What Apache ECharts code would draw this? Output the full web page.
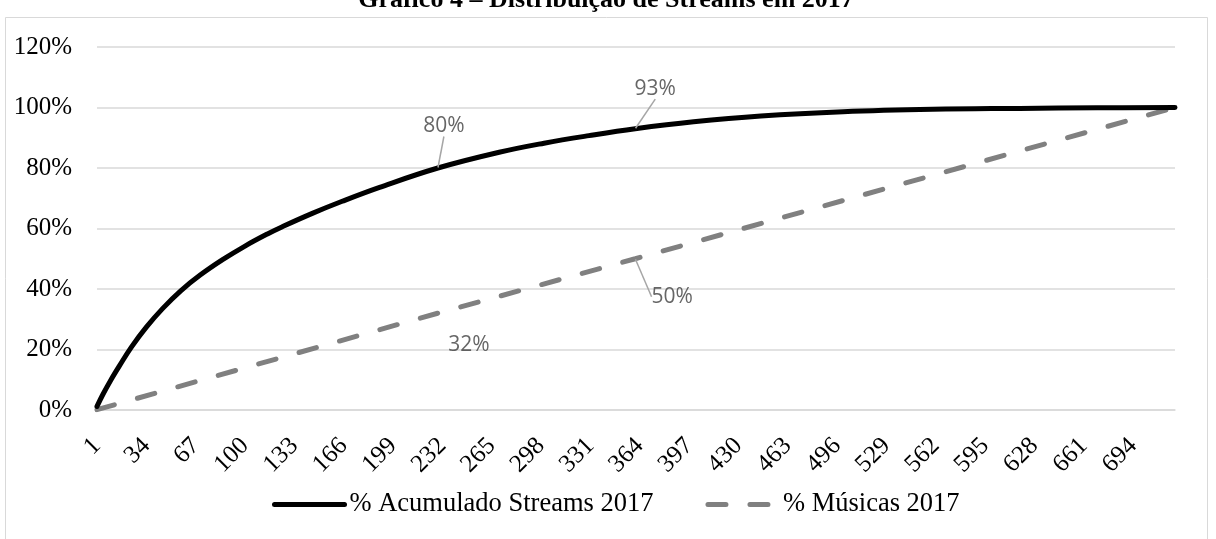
<!DOCTYPE html>
<html>
<head>
<meta charset="utf-8">
<title>Gráfico 4 – Distribuição de Streams em 2017</title>
<script src="https://cdn.jsdelivr.net/npm/echarts@6/dist/echarts.min.js"></script>
<style>
  html, body { margin: 0; padding: 0; background: #ffffff; }
  #chart { width: 1216px; height: 539px; }
</style>
</head>
<body>
<div id="chart"></div>
<script>
// Song rank (1 = most streamed) and cumulative share of streams, in %
const streamsRank = [1, 5, 10, 16, 24, 34, 45, 57, 70, 85, 100, 115, 125, 145, 165, 190, 229, 270, 300, 330, 361, 400, 445, 500, 560, 618, 670, 722];
const streamsPct  = [1.2, 5.2, 9.7, 14.6, 20.8, 27.4, 33.6, 39.4, 44.6, 49.7, 54.2, 58.2, 60.6, 65.0, 69.0, 73.6, 80, 85.2, 88.2, 90.7, 93, 95.3, 97.2, 98.6, 99.4, 99.7, 99.9, 100];

// Cumulative share of songs, in %
const musicasRank = [1, 229, 361, 722];
const musicasPct  = [0.1, 32, 50, 100];

// Category ticks shown on the horizontal axis
const xTickLabels = [1, 34, 67, 100, 133, 166, 199, 232, 265, 298, 331, 364, 397, 430, 463, 496, 529, 562, 595, 628, 661, 694];

// Ranks whose values are annotated on each line
const annotatedRanks = [229, 361];

const nameStreams = '% Acumulado Streams 2017';
const nameMusicas = '% Músicas 2017';

const zip = (xs, ys) => xs.map((x, i) => [x, ys[i]]);

// Annotation points, taken from the series arrays themselves
const annotations = [];
annotatedRanks.forEach(r => {
  annotations.push({ value: [r, streamsPct[streamsRank.indexOf(r)]], leader: true });
});
annotatedRanks.forEach((r, i) => {
  annotations.push({ value: [r, musicasPct[musicasRank.indexOf(r)]], leader: i === 1 });
});
// Label offsets (dx, dy) from each annotated point
const labelOffsets = [[6, -42], [20, -40], [31, 32], [37, 38]];

const serif = 'Liberation Serif, Times New Roman, serif';

const chart = echarts.init(document.getElementById('chart'), null, { renderer: 'canvas' });

chart.setOption({
  backgroundColor: '#ffffff',
  animation: false,
  graphic: [
    {
      type: 'rect',
      shape: { x: 5.5, y: 17.5, width: 1202, height: 600 },
      style: { fill: 'none', stroke: '#d9d9d9', lineWidth: 1 },
      silent: true
    },
    {
      type: 'text',
      x: 606,
      y: 0,
      style: {
        text: 'Gráfico 4 – Distribuição de Streams em 2017',
        font: 'bold 26px ' + serif,
        fill: '#000000',
        align: 'center',
        verticalAlign: 'middle'
      },
      silent: true
    }
  ],
  grid: { left: 97, right: 41, top: 47, bottom: 129, containLabel: false },
  legend: {
    data: [nameStreams, nameMusicas],
    top: 486,
    left: 267,
    itemWidth: 70,
    itemHeight: 20,
    itemGap: 52,
    itemStyle: { opacity: 0 },
    lineStyle: { width: 5, cap: 'round' },
    textStyle: { fontFamily: serif, fontSize: 26.5, color: '#000000' }
  },
  xAxis: {
    type: 'value',
    min: 1,
    max: 722,
    axisLine: { show: true, lineStyle: { color: '#d9d9d9', width: 1.5 } },
    axisTick: { show: false },
    splitLine: { show: false },
    axisLabel: {
      customValues: xTickLabels,
      rotate: 45,
      margin: 32,
      fontFamily: serif,
      fontSize: 25,
      color: '#000000'
    }
  },
  yAxis: {
    type: 'value',
    min: 0,
    max: 120,
    interval: 20,
    axisLine: { show: false },
    axisTick: { show: false },
    splitLine: { lineStyle: { color: '#d9d9d9', width: 1.5 } },
    axisLabel: {
      formatter: '{value}%',
      margin: 25,
      fontFamily: serif,
      fontSize: 25,
      color: '#000000'
    }
  },
  series: [
    {
      name: nameMusicas,
      type: 'line',
      data: zip(musicasRank, musicasPct),
      symbol: 'none',
      showSymbol: false,
      z: 2,
      lineStyle: { color: '#808080', width: 5, type: [18, 24], cap: 'round' },
      itemStyle: { color: '#808080' }
    },
    {
      name: nameStreams,
      type: 'line',
      data: zip(streamsRank, streamsPct),
      smooth: 0.4,
      symbol: 'none',
      showSymbol: false,
      z: 3,
      lineStyle: { color: '#000000', width: 5, cap: 'round', join: 'round' },
      itemStyle: { color: '#000000' }
    },
    {
      name: 'rótulos',
      type: 'scatter',
      silent: true,
      z: 4,
      symbolSize: 1,
      itemStyle: { color: 'rgba(0,0,0,0)' },
      data: annotations.map(a => ({
        value: a.value,
        labelLine: { show: a.leader }
      })),
      label: {
        show: true,
        position: 'inside',
        formatter: p => p.value[1] + '%',
        fontFamily: 'Open Sans, Noto Sans, sans-serif',
        fontSize: 21,
        color: '#404040',
        padding: [8, 6]
      },
      labelLine: {
        show: true,
        lineStyle: { color: '#a6a6a6', width: 1.5 }
      },
      labelLayout: p => ({ dx: labelOffsets[p.dataIndex][0], dy: labelOffsets[p.dataIndex][1] })
    }
  ]
});
</script>
</body>
</html>
